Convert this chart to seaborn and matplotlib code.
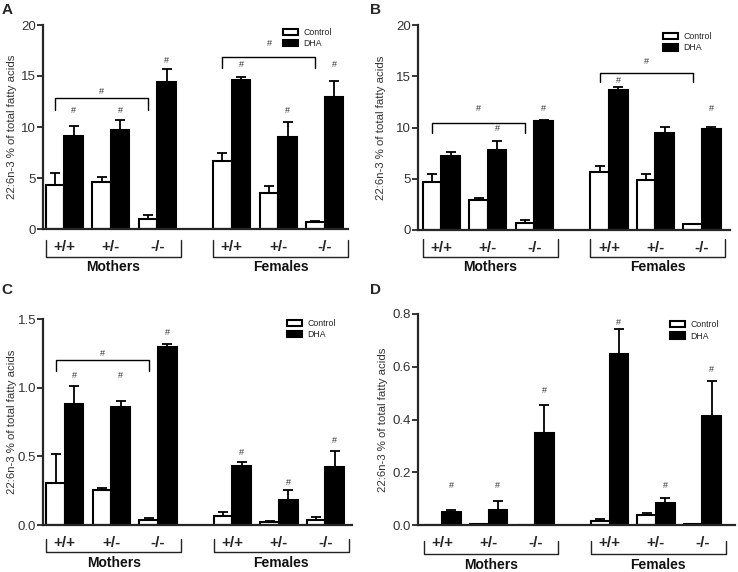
import numpy as np
import pandas as pd
import seaborn as sns
import matplotlib.pyplot as plt

# genotype groups: Mothers then Females
genotypes = ['+/+', '+/-', '-/-', '+/+', '+/-', '-/-']
positions = [0, 1, 2, 3.6, 4.6, 5.6]
treatments = ['Control', 'DHA']

# panel A
a_control = [4.3, 4.6, 1.0, 6.65, 3.55, 0.7]
a_control_sem = [1.2, 0.45, 0.4, 0.8, 0.65, 0.1]
a_dha = [9.1, 9.7, 14.45, 14.65, 9.05, 12.9]
a_dha_sem = [0.95, 0.95, 1.2, 0.25, 1.4, 1.6]
a_hash = [11.6, 11.6, 16.5, 16.15, 11.6, 16.1]
a_brackets = [(0, 2, 12.8, 11.7, 13.5), (3, 5, 16.85, 15.75, 18.2)]

# panel B
b_control = [4.7, 2.9, 0.72, 5.7, 4.85, 0.55]
b_control_sem = [0.8, 0.22, 0.22, 0.55, 0.58, 0.05]
b_dha = [7.25, 7.77, 10.63, 13.7, 9.5, 9.9]
b_dha_sem = [0.33, 0.9, 0.07, 0.22, 0.52, 0.19]
b_hash = [None, 9.9, 11.9, 14.6, None, 11.9]
b_brackets = [(0, 2, 10.4, 9.45, 11.9), (3, 5, 15.3, 14.45, 16.4)]

# panel C
c_control = [0.305, 0.252, 0.036, 0.063, 0.022, 0.034]
c_control_sem = [0.21, 0.02, 0.015, 0.031, 0.007, 0.024]
c_dha = [0.883, 0.861, 1.299, 0.428, 0.181, 0.419]
c_dha_sem = [0.131, 0.041, 0.02, 0.029, 0.071, 0.121]
c_hash = [1.09, 1.09, 1.4, 0.53, 0.31, 0.615]
c_brackets = [(0, 2, 1.198, 1.118, 1.246)]

# panel D
d_control = [0.0, 0.005, 0.0, 0.014, 0.037, 0.005]
d_control_sem = [0, 0, 0, 0.007, 0.007, 0]
d_dha = [0.050, 0.056, 0.348, 0.649, 0.083, 0.413]
d_dha_sem = [0.007, 0.035, 0.106, 0.095, 0.019, 0.132]
d_hash = [0.15, 0.15, 0.51, 0.768, 0.148, 0.589]
d_brackets = []

sns.set_style('ticks')
plt.rcParams['font.family'] = ['Liberation Sans', 'DejaVu Sans']

fig = plt.figure(figsize=(7.38, 5.72), dpi=100)
W, H = 738, 572


def add_ax(left, right, top, bottom):
    return fig.add_axes([left / W, 1 - bottom / H, (right - left) / W, (bottom - top) / H])


def draw_panel(ax, ctrl, ctrl_sem, dha, dha_sem, hash_y, brackets, ylim, yticks,
               ylabels, xlim, leg_anchor, ylab_x, below):
    df = pd.DataFrame({
        'pos': positions * 2,
        'Treatment': ['Control'] * 6 + ['DHA'] * 6,
        'value': ctrl + dha,
    })
    sns.barplot(data=df, x='pos', y='value', hue='Treatment', hue_order=treatments,
                palette={'Control': 'white', 'DHA': 'black'}, native_scale=True,
                width=0.8, errorbar=None, edgecolor='black', linewidth=1.5,
                legend=False, ax=ax)
    conts = list(ax.containers[:2])
    centers = []
    for cont, sem in zip(conts, [ctrl_sem, dha_sem]):
        xs = [p.get_x() + p.get_width() / 2 for p in cont.patches]
        hs = [p.get_height() for p in cont.patches]
        centers.append(xs)
        keep = [i for i in range(len(xs)) if sem[i] > 0]
        ax.errorbar([xs[i] for i in keep], [hs[i] for i in keep],
                    yerr=[np.zeros(len(keep)), [sem[i] for i in keep]],
                    fmt='none', ecolor='black', elinewidth=1.3, capsize=3.5,
                    capthick=1.3, zorder=3)

    for i, y in enumerate(hash_y):
        if y is not None:
            ax.text(centers[1][i], y, '#', ha='center', va='center', fontsize=6.5, color='#333333')

    for i, j, y, drop, hy in brackets:
        x1, x2 = centers[0][i], centers[0][j]
        ax.plot([x1, x1, x2, x2], [drop, y, y, drop], color='black', lw=1)
        ax.text((x1 + x2) / 2, hy, '#', ha='center', va='center', fontsize=6.5, color='#333333')

    ax.set_xlim(*xlim)
    ax.set_ylim(*ylim)
    ax.set_yticks(yticks)
    ax.set_yticklabels(ylabels)
    ax.set_xticks(positions)
    ax.set_xticklabels(genotypes, fontweight='bold', fontsize=11)
    ax.tick_params(axis='x', length=0, pad=8)
    ax.tick_params(axis='y', length=4, width=1.3, labelsize=9.5, labelcolor='#333333', pad=1)
    ax.set_xlabel('')
    ax.set_ylabel('22:6n-3 % of total fatty acids', fontsize=8.2, color='#333333')
    ax.yaxis.set_label_coords(ylab_x, 0.5)
    sns.despine(ax=ax)
    for s in ['left', 'bottom']:
        ax.spines[s].set_linewidth(1.6)

    ax.legend(conts, treatments, loc='upper left', bbox_to_anchor=leg_anchor,
              frameon=False, fontsize=6.3, handlelength=1.7, handleheight=0.75,
              handletextpad=0.6, labelspacing=0.25, borderaxespad=0, borderpad=0)

    # group brackets under the axis
    tr = ax.get_xaxis_transform()
    hpx = ax.get_position().height * H
    b1, b2, lab = below
    for x1, x2, name in [(-0.4, 2.5, 'Mothers'), (3.2, 6.1, 'Females')]:
        ax.plot([x1, x1, x2, x2], [-b1 / hpx, -b2 / hpx, -b2 / hpx, -b1 / hpx],
                transform=tr, clip_on=False, color='#222222', lw=1)
        ax.text((x1 + x2) / 2, -lab / hpx, name, transform=tr, ha='center', va='center',
                fontsize=10, fontweight='bold', color='#111111')


ax_a = add_ax(43, 348, 25, 229)
draw_panel(ax_a, a_control, a_control_sem, a_dha, a_dha_sem, a_hash, a_brackets,
           (0, 20), [0, 5, 10, 15, 20], ['0', '5', '10', '15', '20'],
           (-0.46, 6.1), (0.787, 0.985), -0.085, (11, 28, 38))

ax_b = add_ax(418, 730, 25, 230)
draw_panel(ax_b, b_control, b_control_sem, b_dha, b_dha_sem, b_hash, b_brackets,
           (0, 20), [0, 5, 10, 15, 20], ['0', '5', '10', '15', '20'],
           (-0.5, 6.2), (0.785, 0.965), -0.103, (9, 27, 37))

ax_c = add_ax(43, 352, 319, 525)
draw_panel(ax_c, c_control, c_control_sem, c_dha, c_dha_sem, c_hash, c_brackets,
           (0, 1.5), [0, 0.5, 1.0, 1.5], ['0.0', '0.5', '1.0', '1.5'],
           (-0.47, 6.17), (0.79, 1.0), -0.084, (14, 27, 38))

ax_d = add_ax(418, 735, 314, 525)
draw_panel(ax_d, d_control, d_control_sem, d_dha, d_dha_sem, d_hash, d_brackets,
           (0, 0.8), [0, 0.2, 0.4, 0.6, 0.8], ['0.0', '0.2', '0.4', '0.6', '0.8'],
           (-0.52, 6.3), (0.795, 0.97), -0.095, (16, 29, 40))

for x, y, letter in [(2, 3, 'A'), (370, 3, 'B'), (1, 283, 'C'), (370, 283, 'D')]:
    fig.text(x / W, 1 - y / H, letter, fontsize=11, fontweight='bold', va='top', ha='left')

fig.savefig('out.png', dpi=100)
